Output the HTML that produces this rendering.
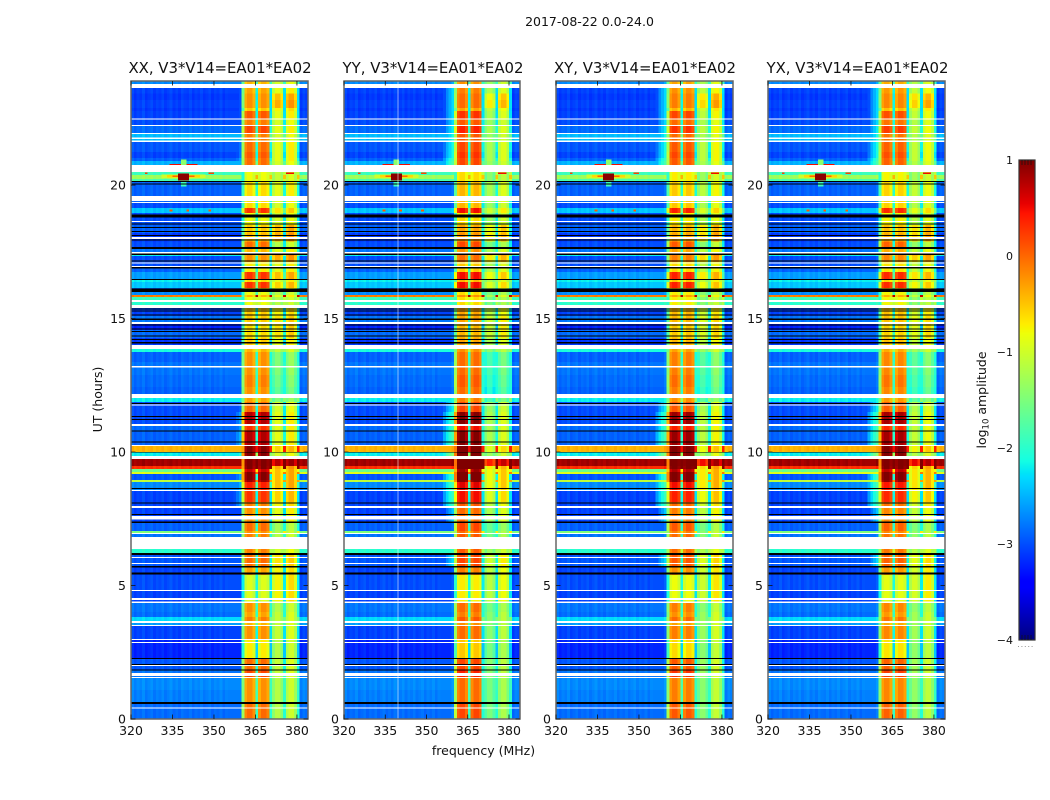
<!DOCTYPE html>
<html>
<head>
<meta charset="utf-8">
<title>2017-08-22 0.0-24.0</title>
<style>
html,body{margin:0;padding:0;background:#fff;width:1050px;height:800px;overflow:hidden}
svg{display:block}
text{font-family:"DejaVu Sans","Liberation Sans",sans-serif;fill:#111}
</style>
</head>
<body>
<svg id="figure" xmlns="http://www.w3.org/2000/svg" width="1050" height="800" viewBox="0 0 1050 800">
  <rect x="0" y="0" width="1050" height="800" fill="#fff"/>
  <text x="589.5" y="26" font-size="12.5" text-anchor="middle">2017-08-22 0.0-24.0</text>
  <text x="220" y="73" font-size="14.9" text-anchor="middle">XX, V3*V14=EA01*EA02</text>
  <text x="433" y="73" font-size="14.9" text-anchor="middle">YY, V3*V14=EA01*EA02</text>
  <text x="645" y="73" font-size="14.9" text-anchor="middle">XY, V3*V14=EA01*EA02</text>
  <text x="857.5" y="73" font-size="14.9" text-anchor="middle">YX, V3*V14=EA01*EA02</text>
  <text x="483.5" y="755" font-size="12.5" text-anchor="middle">frequency (MHz)</text>
  <text transform="translate(102,399.5) rotate(-90)" font-size="12.5" text-anchor="middle">UT (hours)</text>
  <text transform="translate(986,400) rotate(-90)" font-size="12.5" text-anchor="middle">log<tspan font-size="8.5" dy="2.5">10</tspan><tspan dy="-2.5"> amplitude</tspan></text>
  <g id="panels"></g>
  <g id="colorbar"></g>
</svg>
<script>
// ---- observation blocks, top to bottom (UT hour at the top edge of each block; last block ends at 0) ----
const runTopHour = [
 23.90,23.63,23.44,23.18,22.88,22.77,22.47,22.25,21.95,21.65,
 21.24,21.01,20.90,20.49,20.37,20.22,20.15,
 19.33,19.14,18.95,18.50,18.20,17.88,17.60,17.42,17.34,17.12,16.88,
 16.74,16.48,16.37,16.14,16.00,15.88,15.81,15.62,15.39,15.09,14.87,14.57,14.27,
 13.86,13.75,13.37,12.88,12.43,12.02,11.87,11.50,11.01,10.79,10.22,
 10.00,9.74,9.48,9.36,9.25,9.18,8.95,8.88,8.58,8.13,
 7.90,7.38,7.04,6.97,6.37,6.14,5.73,5.39,4.83,4.34,
 4.01,3.82,3.67,3.48,2.96,2.28,1.84,1.57,1.09,0.56];
// log10 amplitude outside the loud bands
const runBackground = [
 -2.7,-3.05,-3.1,-3.05,-3.1,-3.05,-3.0,-2.85,-2.45,-2.95,
 -3.05,-2.9,-2.5,-1.9,-1.3,-1.8,-2.9,
 -3.0,-2.4,-3.0,-2.9,-3.1,-3.0,-2.8,-2.2,-3.0,-3.0,-2.9,
 -2.6,-2.2,-2.4,-2.9,-2.7,-0.1,-1.9,-2.0,-3.05,-2.8,-3.2,-2.85,-3.1,
 -2.1,-2.9,-2.8,-2.85,-2.9,-2.2,-3.0,-3.0,-2.85,-2.9,-0.4,
 -2.2,0.85,0.3,-1.6,-0.9,-2.95,-1.1,-2.7,-3.05,-3.05,
 -3.05,-2.9,-1.5,-2.8,-2.0,-2.95,-3.05,-3.0,-3.05,-2.8,
 -2.85,-2.3,-2.6,-3.05,-3.2,-2.95,-2.8,-2.7,-2.75,-2.85];
// log10 amplitude of the 361-370 MHz loud band
const runBandAB = [
 -0.5,-0.4,-0.3,-0.3,-0.6,0,-0.2,0.1,-0.2,-0.1,
 0,-0.1,-0.1,-0.9,-0.9,-0.9,-0.7,
 -0.7,0.2,-0.9,-0.6,-0.5,-0.1,-0.5,-0.3,-0.3,-0.8,-0.8,
 0.2,-0.7,0.2,-0.5,-0.9,-0.5,-0.9,-0.9,-0.6,-0.6,-0.7,-0.7,-0.6,
 -0.5,-0.3,-0.3,-0.2,-0.3,-0.4,-0.1,0.7,0.2,0.7,0.9,
 0.9,0.95,0.9,0.6,0.9,0.9,0.8,0.3,0.2,-0.2,
 -0.3,-0.1,-0.3,-0.2,-0.2,-0.1,-0.4,-1.0,-1.0,-0.3,
 -0.4,-0.2,-0.5,-0.3,-0.8,-0.1,0.1,-0.3,-0.3,-0.1];
// log10 amplitude of the 371-380 MHz band
const runBandCD = [
 -1.0,-0.9,-0.5,-0.4,-0.8,-0.9,-1.0,-0.9,-1.0,-0.9,
 -0.9,-0.9,-1.0,-1.1,-1.1,-1.1,-0.9,
 -1.0,-0.7,-1.0,-0.5,-0.4,-1.2,-0.9,-0.3,-0.4,-0.9,-0.9,
 -0.5,-0.9,-0.6,-0.9,-1.2,-0.9,-1.2,-1.2,-0.8,-0.7,-0.7,-0.7,-0.9,
 -1.1,-1.5,-1.5,-1.6,-1.7,-1.5,-1.0,-0.9,-0.9,-0.9,-0.6,
 -1.0,0.7,-0.4,-0.5,-0.5,-0.5,-0.5,-0.5,-0.6,-0.8,
 -0.9,-1.3,-1.2,-1.2,-1.0,-0.7,-0.8,-0.8,-0.8,-1.2,
 -1.1,-1.1,-1.1,-1.1,-1.2,-1.1,-1.1,-1.2,-1.2,-1.2];
// log10 amplitude of the skirt just below the loud band (356-360 MHz)
const runSkirt = [
 -2.6,-2.4,-2.4,-2.4,-2.4,-2.4,-2.4,-2.3,-2.2,-2.2,
 -2.2,-2.0,-1.9,-1.9,-1.3,-1.8,-2.9,
 -3.0,-2.4,-3.0,-2.9,-3.1,-3.0,-2.8,-2.2,-3.0,-3.0,-2.9,
 -2.6,-2.2,-2.4,-2.9,-2.7,-0.1,-1.9,-2.0,-3.05,-2.8,-3.2,-2.85,-3.1,
 -2.1,-2.9,-2.8,-2.85,-2.9,-2.2,-2.3,-2.0,-2.0,-1.9,-0.4,
 -1.5,0.85,0.3,-1.6,-0.9,-2.0,-1.1,-1.9,-2.0,-2.0,
 -2.5,-2.9,-1.5,-2.8,-2.0,-2.4,-3.05,-3.0,-3.05,-2.8,
 -2.85,-2.3,-2.6,-3.05,-3.2,-2.95,-2.8,-2.7,-2.75,-2.85];

// channel role: 0 background, 1 band AB, 2 band C, 3 notch, 4 skirt, 5 band D
const channelRole = [
 0,0,0,0,0,0,0,0,0,0,0,0,0,0,0,0,0,0,0,0,
 0,0,0,0,0,0,0,0,0,0,0,0,0,0,0,0,4,4,4,4,
 1,1,1,1,1,3,1,1,1,1,3,2,2,2,2,3,5,5,5,5,
 3,0,0,0];
const channelOffset = [
 0.05,-0.05,0.02,-0.02,0.07,-0.05,0,0.05,-0.05,0.02,
 -0.02,0.05,-0.05,0,0.06,-0.04,0.02,-0.05,0.05,0,
 -0.02,0.05,-0.05,0.02,-0.02,0.05,-0.04,0,0.05,-0.05,
 0.02,-0.02,0.05,-0.05,0.02,0,-0.6,-0.3,-0.1,0.1,
 -1.2,-0.05,0.1,0.1,-0.1,0.9,-0.1,0.1,0.1,-0.05,
 0.8,-0.2,0.05,0.05,-0.2,0.8,-0.1,0.1,0.1,-0.2,
 0.8,-0.05,0.05,0];

// polarisation differences
const panelNames = ['xx','yy','xy','yx'];
const panelOffsetAB = [0,0.2,0.1,0.05];
const panelOffsetC = [0,-0.35,-0.25,-0.2];
const panelOffsetD = [0.1,-0.1,0.05,0];
const panelOffsetSkirt = [-0.7,0,0,0];
const panelFlagMhz = [null,339,null,null];

// flagged (white) and zero (black) integrations, UT hours
const gapTop = [23.78,22.49,22.25,21.95,21.78,21.67,20.75,19.59,19.36,18.65,18.05,17.49,17.10,16.97,15.69,15.51,14.87,14.01,13.22,12.17,11.78,11.05,10.26,9.85,8.58,7.98,7.60,6.97,6.82,6.07,5.84,4.83,4.53,4.40,3.67,3.52,3.00,2.88,2.02,1.72,1.57,0.43];
const gapBottom = [23.63,22.45,22.21,21.91,21.72,21.61,20.49,19.40,19.33,18.61,17.98,17.43,17.06,16.93,15.62,15.39,14.79,13.86,13.17,12.02,11.74,10.97,10.22,9.74,8.54,7.90,7.48,6.93,6.37,6.03,5.81,4.79,4.46,4.34,3.60,3.48,2.96,2.85,1.99,1.61,1.54,0.39];
const zeroTop = [20.16,20.06,18.89,18.56,18.43,18.28,18.13,17.96,17.69,17.44,17.17,16.93,16.48,16.13,15.38,15.30,15.15,15.00,14.77,14.63,14.53,14.36,14.23,14.12,11.84,11.35,11.24,10.80,10.39,10.01,8.65,8.11,7.68,7.40,6.21,5.73,5.48,2.28,2.06,1.86,0.63];
const zeroBottom = [20.12,20.02,18.79,18.52,18.39,18.24,18.09,17.92,17.60,17.38,17.13,16.88,16.44,16.00,15.34,15.26,15.11,14.94,14.74,14.59,14.49,14.33,14.19,14.07,11.80,11.31,11.20,10.77,10.36,9.99,8.61,8.07,7.64,7.35,6.14,5.68,5.41,2.24,2.02,1.82,0.56];

// interference bursts, drawn broad to narrow
const hotTop = [20.40,20.38,20.36,20.43,20.80,20.95,20.14,20.47,20.47,20.47,19.09,19.09,19.09];
const hotBottom = [20.26,20.28,20.30,20.17,20.75,20.75,19.95,20.42,20.42,20.42,19.02,19.02,19.02];
const hotMhzLow = [331,333,335,337,334,338,338,325,348,376,334,340,348];
const hotMhzHigh = [347,345,343,341,344,340,340,326,350,379,335,341,349];
const hotLevel = [-1.0,-0.6,0.0,0.95,0.5,-1.4,-1.9,0.2,0.2,0.5,0.1,0.1,0.1];

// axes
const xTicks = [320,335,350,365,380];
const xTickLabels = ['320','335','350','365','380'];
const yTicks = [0,5,10,15,20];
const yTickLabels = ['0','5','10','15','20'];
const colorTicks = [1,0,-1,-2,-3,-4];
const colorTickLabels = ['1','0','\u22121','\u22122','\u22123','\u22124'];

const NS = 'http://www.w3.org/2000/svg';
const FREQ_MIN = 320, FREQ_MAX = 384, HOUR_MAX = 23.9, VMIN = -4, VMAX = 1;
const PLOT_TOP = 81, PLOT_BOTTOM = 719;
const panelLeft = [131,344,556,768];
const panelWidth = [177,176,177,177];

function mk(tag, attrs, parent) {
  const el = document.createElementNS(NS, tag);
  for (const k in attrs) el.setAttribute(k, attrs[k]);
  parent.appendChild(el);
  return el;
}
function interp(t, pts) {
  if (t <= pts[0][0]) return pts[0][1];
  for (let i = 1; i < pts.length; i++) {
    if (t <= pts[i][0]) {
      const a = pts[i-1], b = pts[i];
      return a[1] + (b[1]-a[1]) * (t-a[0]) / (b[0]-a[0]);
    }
  }
  return pts[pts.length-1][1];
}
function colorScale(v) {
  const t = Math.max(0, Math.min(1, (v - VMIN) / (VMAX - VMIN)));
  const r = interp(t, [[0,0],[0.35,0],[0.66,1],[0.89,1],[1,0.5]]);
  const g = interp(t, [[0,0],[0.125,0],[0.375,1],[0.64,1],[0.91,0],[1,0]]);
  const b = interp(t, [[0,0.5],[0.11,1],[0.34,1],[0.65,0],[1,0]]);
  return 'rgb(' + Math.round(r*255) + ',' + Math.round(g*255) + ',' + Math.round(b*255) + ')';
}
function yScale(h) {
  return PLOT_BOTTOM - h * (PLOT_BOTTOM - PLOT_TOP) / HOUR_MAX;
}
function cellValue(p, run, ch) {
  const role = channelRole[ch], off = channelOffset[ch], bg = runBackground[run];
  if (role === 1) return runBandAB[run] + panelOffsetAB[p] + off;
  if (role === 2) return runBandCD[run] + panelOffsetC[p] + off;
  if (role === 5) return runBandCD[run] + panelOffsetD[p] + off;
  if (role === 4) return Math.max(bg, runSkirt[run] + panelOffsetSkirt[p] + off);
  return bg + off;
}

const panelsRoot = document.getElementById('panels');
panelNames.forEach(function (name, p) {
  const left = panelLeft[p], width = panelWidth[p];
  const xScale = function (f) { return left + (f - FREQ_MIN) * width / (FREQ_MAX - FREQ_MIN); };

  const g = mk('g', {'shape-rendering':'crispEdges'}, panelsRoot);
  
  

  for (let run = 0; run < runTopHour.length; run++) {
    const top = yScale(runTopHour[run]);
    const bottom = yScale(run + 1 < runTopHour.length ? runTopHour[run + 1] : 0);
    for (let ch = 0; ch < channelRole.length; ch++) {
      const x0 = xScale(FREQ_MIN + ch), x1 = xScale(FREQ_MIN + ch + 1);
      const cell = mk('rect', {x:x0, y:top, width:x1-x0, height:bottom-top, fill:colorScale(cellValue(p, run, ch))}, g);
      
      
    }
  }
  hotLevel.forEach(function (lv, i) {
    const x0 = xScale(hotMhzLow[i]), x1 = xScale(hotMhzHigh[i]);
    const t = yScale(hotTop[i]), b = yScale(hotBottom[i]);
    const burst = mk('rect', {x:x0, y:t, width:x1-x0, height:b-t, fill:colorScale(lv)}, g);
    
    
  });
  zeroTop.forEach(function (h, i) {
    const t = yScale(h), b = yScale(zeroBottom[i]);
    const zero = mk('rect', {x:left, y:t, width:width, height:b-t, fill:'#000'}, g);
    
    
  });
  if (panelFlagMhz[p] !== null) {
    const fx = xScale(panelFlagMhz[p]);
    const flag = mk('rect', {x:fx + 1, y:PLOT_TOP, width:1, height:PLOT_BOTTOM-PLOT_TOP, fill:'#fff', 'fill-opacity':0.55}, g);
    
    
  }
  gapTop.forEach(function (h, i) {
    const t = yScale(h), b = yScale(gapBottom[i]);
    const gap = mk('rect', {x:left, y:t, width:width, height:b-t, fill:'#fff'}, g);
    
    
  });

  const frame = mk('rect', {x:left, y:PLOT_TOP, width:width, height:PLOT_BOTTOM-PLOT_TOP, fill:'none', stroke:'#666', 'stroke-width':1.5}, panelsRoot);
  
  

  xTicks.forEach(function (f, i) {
    const x = xScale(f);
    const tb = mk('line', {x1:x, x2:x, y1:PLOT_BOTTOM, y2:PLOT_BOTTOM-4.5, stroke:'#111', 'stroke-width':0.8}, panelsRoot);
    
    
    const tt = mk('line', {x1:x, x2:x, y1:PLOT_TOP, y2:PLOT_TOP+4.5, stroke:'#111', 'stroke-width':0.8}, panelsRoot);
    
    
    const lab = mk('text', {x:x, y:735, 'font-size':12.5, 'text-anchor':'middle'}, panelsRoot);
    lab.textContent = xTickLabels[i];
    
    
  });
  yTicks.forEach(function (h, i) {
    const y = yScale(h);
    const tl = mk('line', {x1:left, x2:left+4.5, y1:y, y2:y, stroke:'#111', 'stroke-width':0.8}, panelsRoot);
    
    
    const tr = mk('line', {x1:left+width, x2:left+width-4.5, y1:y, y2:y, stroke:'#111', 'stroke-width':0.8}, panelsRoot);
    
    
    const lab = mk('text', {x:left-5, y:y+4.5, 'font-size':12.5, 'text-anchor':'end'}, panelsRoot);
    lab.textContent = yTickLabels[i];
    
    
  });
});

// colorbar
const CB_LEFT = 1019, CB_WIDTH = 16, CB_TOP = 160, CB_BOTTOM = 640;
const cbScale = function (v) { return CB_BOTTOM - (v - VMIN) * (CB_BOTTOM - CB_TOP) / (VMAX - VMIN); };
const cbRoot = document.getElementById('colorbar');
const cbBars = mk('g', {'shape-rendering':'crispEdges'}, cbRoot);


for (let i = 0; i < 240; i++) {
  const v0 = VMIN + (VMAX - VMIN) * i / 240;
  const v1 = VMIN + (VMAX - VMIN) * (i + 1) / 240;
  const band = mk('rect', {x:CB_LEFT, y:cbScale(v1), width:CB_WIDTH, height:cbScale(v0)-cbScale(v1)+0.5, fill:colorScale((v0+v1)/2)}, cbBars);
  
  
}
const cbFrameOuter = mk('rect', {x:CB_LEFT, y:CB_TOP, width:CB_WIDTH, height:CB_BOTTOM-CB_TOP, fill:'none', stroke:'#333', 'stroke-width':1.2}, cbRoot);


colorTicks.forEach(function (v, i) {
  const lab = mk('text', {x:1013, y:cbScale(v)+4, 'font-size':11, 'text-anchor':'end'}, cbRoot);
  lab.textContent = colorTickLabels[i];
  
  
});
[1022,1025,1028,1031].forEach(function (x) {
  const a = mk('line', {x1:x, x2:x, y1:CB_TOP, y2:CB_TOP+5, stroke:'#111', 'stroke-width':0.7}, cbRoot);
  
  
  const b = mk('line', {x1:x, x2:x, y1:CB_BOTTOM, y2:CB_BOTTOM-5, stroke:'#111', 'stroke-width':0.7}, cbRoot);
  
  
});
const cbDots = mk('line', {x1:1018, x2:1035, y1:646.5, y2:646.5, stroke:'#999', 'stroke-width':1, 'stroke-dasharray':'1 2.4'}, cbRoot);


</script>
</body>
</html>
